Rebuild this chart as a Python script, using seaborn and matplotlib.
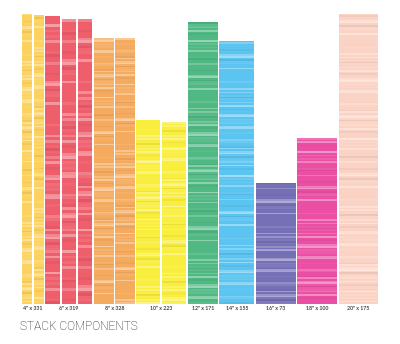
import numpy as np
import matplotlib
matplotlib.use("Agg")
import matplotlib.pyplot as plt
import matplotlib.colors as mcolors
import seaborn as sns

# Stack components by diameter: number of pieces and how many stacks they are split into
sizes = ['4"', '6"', '8"', '10"', '12"', '14"', '16"', '18"', '20"']
counts = [331, 319, 328, 223, 171, 155, 73, 100, 175]
stacks_per_size = [2, 3, 2, 2, 1, 1, 1, 1, 1]
piece_thickness = [1.75, 2.69, 1.62, 1.64, 1.65, 1.70, 1.66, 1.66, 1.66]
labels = [f"{s} x {c}" for s, c in zip(sizes, counts)]

# styling
colors = ["#FCD15E", "#EE5E6B", "#F5AB5F", "#F9EE3E", "#50B883",
          "#5BC4F0", "#7671B7", "#EA4FA3", "#FBD3C5"]
stack_widths = [10, 14.5, 19.5, 24, 30, 35, 39.5, 39.5, 39.5]
gap = 1.7
x_start = 22
# lightness variation of individual pieces (cycled), negative = darker
shade_cycle = [0.0, 0.25, 0.0, 0.05, 0.0, 0.35, 0.0, 0.0, -0.06, 0.1, 0.0,
               0.3, 0.0, 0.05, 0.0, 0.2, 0.0, -0.04, 0.0, 0.4, 0.0, 0.08, 0.0]

sns.set_theme(style="white")
plt.rcParams["font.family"] = ["Lato", "DejaVu Sans"]

fig = plt.figure(figsize=(4.0, 3.44), dpi=100)
ax = fig.add_axes([0, 0, 1, 1])
ax.set_xlim(0, 400)
ax.set_ylim(-40, 304)
ax.axis("off")


def shade(base, f):
    rgb = np.array(mcolors.to_rgb(base))
    if f >= 0:
        return tuple(rgb + (1 - rgb) * f)
    return tuple(rgb * (1 + f))


cursor = x_start
k = 0
for size_i, (n, nstack, t, w, col, lab) in enumerate(
        zip(counts, stacks_per_size, piece_thickness, stack_widths, colors, labels)):
    per = [n // nstack + (1 if j < n % nstack else 0) for j in range(nstack)]
    group_left = cursor
    for m in per:
        bottoms = np.arange(m) * t
        piece_colors = [shade(col, shade_cycle[(k + i * 5 + i // 4) % len(shade_cycle)])
                        for i in range(m)]
        ax.bar(np.full(m, cursor), np.full(m, t), width=w, bottom=bottoms,
               align="edge", color=piece_colors, linewidth=0)
        k += 4
        cursor += w + gap
    group_right = cursor - gap
    ax.text((group_left + group_right) / 2, -4.5, lab, ha="center", va="center",
            fontsize=3.8, fontweight="bold", color="#444444")

ax.text(20, -22, "STACK COMPONENTS", ha="left", va="center", fontsize=8.6,
        family=["Roboto", "DejaVu Sans"], fontweight="light", color="#111111")

fig.savefig("out.png", dpi=100, facecolor="white")
